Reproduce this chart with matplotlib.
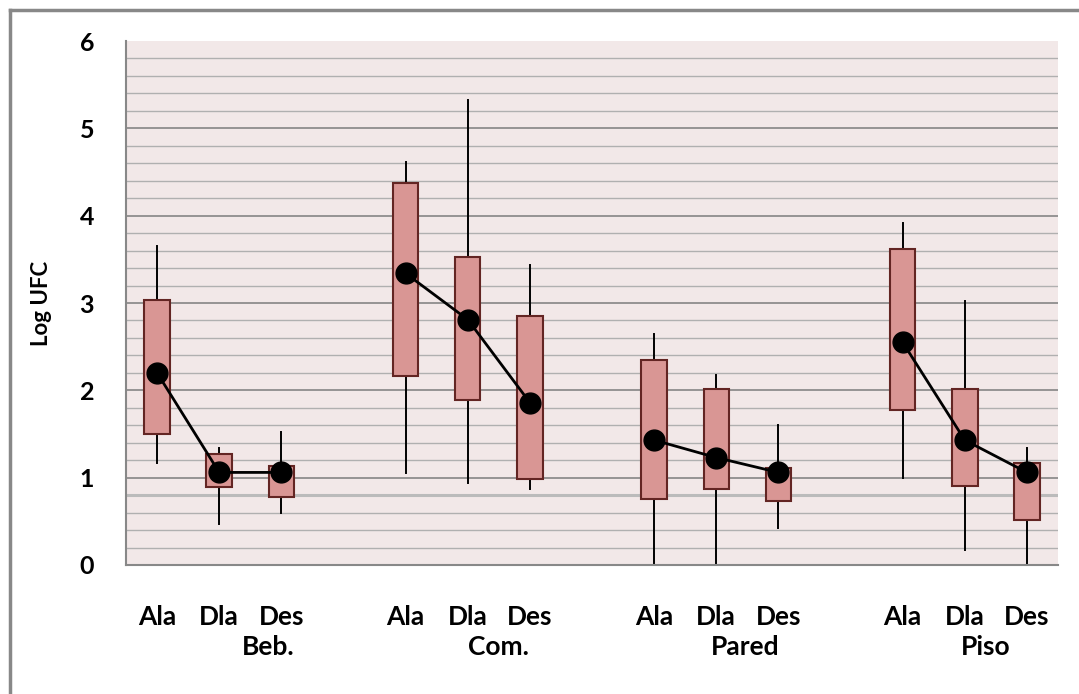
import matplotlib
matplotlib.use("Agg")
import matplotlib.pyplot as plt
from matplotlib.lines import Line2D
from matplotlib.patches import Rectangle

groups = ["Beb.", "Com.", "Pared", "Piso"]
subcats = ["Ala", "Dla", "Des"]

# per group: Ala, Dla, Des
box_low = [[1.50, 0.89, 0.775], [2.16, 1.89, 0.99], [0.76, 0.87, 0.73], [1.77, 0.91, 0.51]]
box_high = [[3.03, 1.27, 1.13], [4.37, 3.53, 2.855], [2.35, 2.01, 1.11], [3.62, 2.02, 1.17]]
whisk_low = [[1.17, 0.47, 0.60], [1.05, 0.94, 0.87], [0.0, 0.0, 0.42], [1.00, 0.17, 0.0]]
whisk_high = [[3.65, 1.34, 1.52], [4.62, 5.32, 3.43], [2.65, 2.18, 1.60], [3.92, 3.02, 1.34]]
means = [[2.20, 1.06, 1.06], [3.34, 2.81, 1.86], [1.43, 1.23, 1.06], [2.55, 1.43, 1.06]]

plt.rcParams['font.family'] = ['Lato', 'DejaVu Sans']

fig = plt.figure(figsize=(10.79, 6.94), dpi=100)
ax = fig.add_axes([0.1168, 0.1859, 0.9805 - 0.1168, 0.9409 - 0.1859])
ax.set_facecolor("#F2E8E8")

ax.set_xlim(-0.5, 14.5)
ax.set_ylim(0, 6)

# gridlines
for i in range(1, 30):
    v = i * 0.2
    if i % 5 == 0:
        ax.axhline(v, color="#858585", lw=1.2, zorder=0)
    else:
        ax.axhline(v, color="#B0B0B0", lw=1.0, zorder=0)
ax.axhline(0.8, color="#BBBBBB", lw=2.2, zorder=0)

bw = 0.41
for g in range(len(groups)):
    xs = [4 * g + k for k in range(3)]
    for k, x in enumerate(xs):
        ax.plot([x, x], [box_high[g][k], whisk_high[g][k]], color="black", lw=1.4, zorder=2)
        ax.plot([x, x], [whisk_low[g][k], box_low[g][k]], color="black", lw=1.4, zorder=2)
        ax.add_patch(Rectangle((x - bw / 2, box_low[g][k]), bw, box_high[g][k] - box_low[g][k],
                               facecolor="#D99694", edgecolor="#632523", lw=1.5, zorder=3))
    ax.plot(xs, means[g], color="black", lw=2, marker="o", markersize=15, zorder=4)

for s in ax.spines.values():
    s.set_visible(False)
ax.spines['left'].set_visible(True)
ax.spines['bottom'].set_visible(True)
ax.spines['left'].set_color("#888888")
ax.spines['bottom'].set_color("#888888")
ax.spines['left'].set_linewidth(1.5)
ax.spines['bottom'].set_linewidth(1.5)

ax.set_yticks(range(0, 7))
ax.set_yticklabels([str(i) for i in range(0, 7)], fontsize=18, fontweight="bold")
ax.tick_params(axis="y", length=0, pad=23)
ax.set_xticks([])
ax.set_ylabel("Log UFC", fontsize=16, fontweight="bold", labelpad=20)

label_off = [1.79, 1.5, 1.47, 1.33]
for g in range(len(groups)):
    for k in range(3):
        x = 4 * g + k
        ax.text(x, -0.59, subcats[k], ha="center", va="center", fontsize=19,
                fontweight="bold")
    ax.text(4 * g + label_off[g], -0.94, groups[g], ha="center", va="center", fontsize=19,
            fontweight="bold")

fig.add_artist(Line2D([9.5 / 1079, 9.5 / 1079], [0, 1 - 9.5 / 694], color="#888888", lw=2.5))
fig.add_artist(Line2D([9.5 / 1079, 1], [1 - 9.5 / 694, 1 - 9.5 / 694], color="#888888", lw=2.5))

fig.savefig("out.png", dpi=100)
